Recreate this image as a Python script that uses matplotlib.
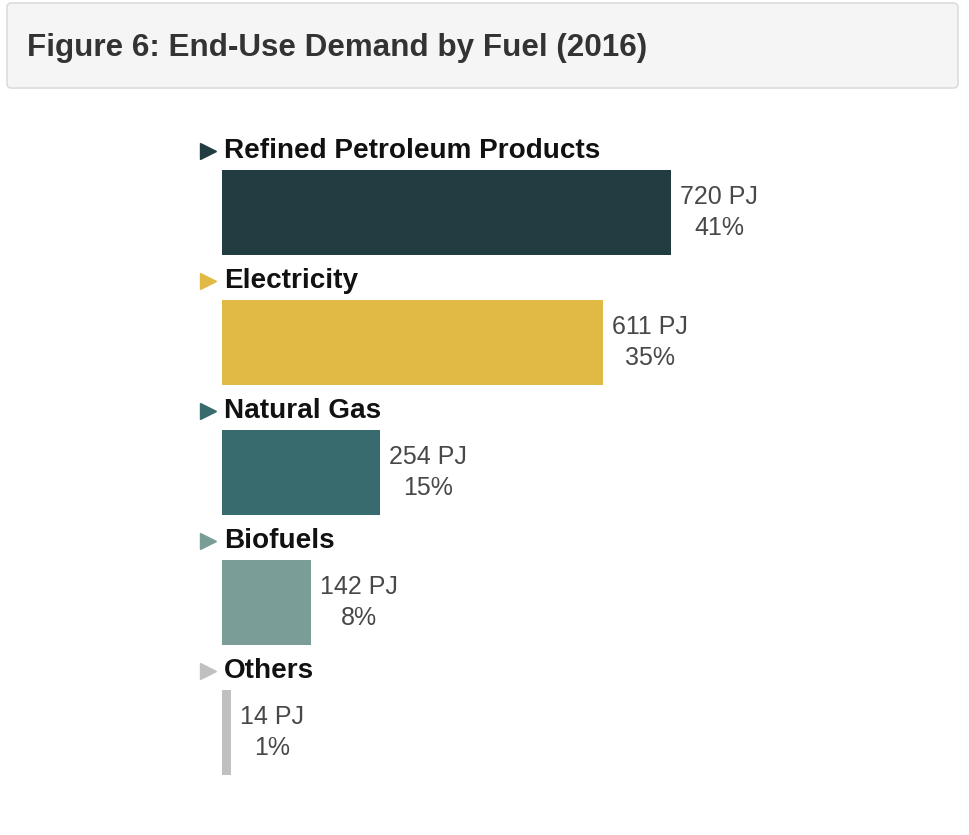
import matplotlib
matplotlib.use("Agg")
import matplotlib.pyplot as plt
from matplotlib.patches import FancyBboxPatch

categories = ["Refined Petroleum Products", "Electricity", "Natural Gas", "Biofuels", "Others"]
values_pj = [720, 611, 254, 142, 14]
shares = ["41%", "35%", "15%", "8%", "1%"]
colors = ["#213d42", "#e0ba45", "#386b6e", "#7a9e97", "#c0c0c0"]
title = "Figure 6: End-Use Demand by Fuel (2016)"

W, H = 969, 835
fig = plt.figure(figsize=(W / 100, H / 100), dpi=100)
fig.patch.set_facecolor("white")

# header box
hdr = FancyBboxPatch((7 / W, (H - 88) / H), (958 - 7) / W, 85 / H,
                     boxstyle="round,pad=0,rounding_size=0.005",
                     transform=fig.transFigure, facecolor="#f5f5f5",
                     edgecolor="#dcdcdc", linewidth=1.2)
fig.patches.append(hdr)
fig.text(27 / W, 1 - 48 / H, title, fontsize=22.6, fontweight="bold",
         color="#333333", va="center", ha="left", family="Liberation Sans")

ax = fig.add_axes([0, 0, 1, 1])
ax.set_facecolor("none")
scale = 0.6236  # px per PJ
x0 = 222
ax.set_xlim(-x0 / scale, (W - x0) / scale)
y0, dy = 212.5, 130.0
ax.set_ylim((H - y0) / dy, -y0 / dy)
ax.axis("off")

pos = list(range(len(categories)))
ax.barh(pos, values_pj, height=85 / dy, color=colors, edgecolor="none")

for i, (cat, v, s, c) in enumerate(zip(categories, values_pj, shares, colors)):
    ly = i - 62 / dy
    ax.plot([-14 / scale], [ly], marker=">", markersize=12, color=c,
            linestyle="none", clip_on=False)
    ax.text(2 / scale, ly, cat, fontsize=20.1, fontweight="bold",
            color="#111111", va="center", ha="left", family="Liberation Sans")
    ax.text(v + 9 / scale, i, f"{v} PJ\n{s}", fontsize=18, color="#484848",
            va="center", ha="left", multialignment="center",
            linespacing=1.38, family="Liberation Sans")

fig.savefig("out.png", dpi=100)
